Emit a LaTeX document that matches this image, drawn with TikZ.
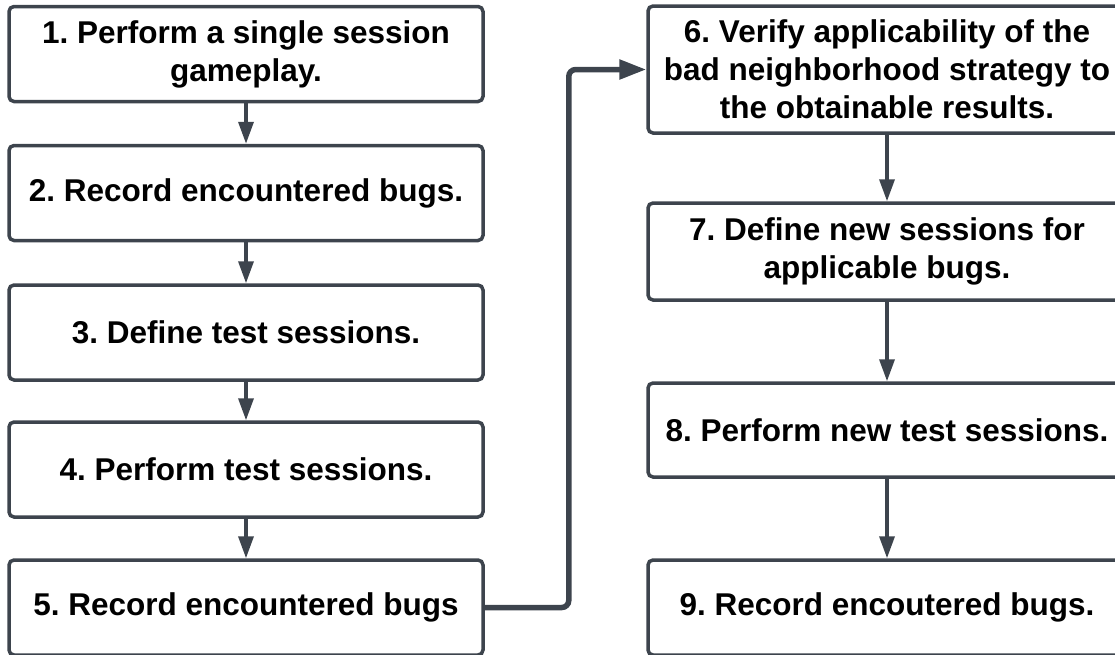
\documentclass[tikz,border=0pt]{standalone}
\usepackage{fontspec}
\setmainfont{Liberation Sans}
\usepackage{tikz}
\usetikzlibrary{arrows.meta}
\definecolor{edgegray}{HTML}{3D444D}
\frenchspacing

\begin{document}
\begin{tikzpicture}[x=1pt, y=-1pt, stepbox/.style={draw=edgegray, rectangle, rounded corners=5pt, line width=3.5pt, minimum width=474pt, minimum height=95pt, align=center, font=\fontsize{31.5}{38}\selectfont\bfseries, fill=white}, n/.style={-{Triangle[length=22pt, width=15pt]}, draw=edgegray, line width=3.5pt}, link/.style={-{Triangle[length=27pt, width=19pt]}, draw=edgegray, line width=5.5pt, rounded corners=7pt}]
            \useasboundingbox (0,0) rectangle (1115,654);
            \clip (0,0) rectangle (1115,654);
            % nodes
            \node[stepbox] (s1) at (246,54) {1. Perform a single session\\gameplay.};
            \node[stepbox] (s2) at (246,193) {2. Record encountered bugs.};
            \node[stepbox] (s3) at (246,332.5) {3. Define test sessions.};
            \node[stepbox] (s4) at (246,469.5) {4. Perform test sessions.};
            \node[stepbox] (s5) at (246,607.5) {5. Record encountered bugs};
            \node[stepbox, minimum width=478pt, minimum height=127pt] (s6) at (887,69.5) {6. Verify applicability of the\\bad neighborhood strategy to\\the obtainable results.};
            \node[stepbox, minimum width=478pt, minimum height=97pt] (s7) at (887,251.5) {7. Define new sessions for\\applicable bugs.};
            \node[stepbox, minimum width=478pt, minimum height=94pt] (s8) at (887,430) {8. Perform new test sessions.};
            \node[stepbox, minimum width=478pt] (s9) at (887,607.5) {9. Record encoutered bugs.};
            % edges
            \draw [n] (s1) -- (s2);
            \draw [n] (s2) -- (s3);
            \draw [n] (s3) -- (s4);
            \draw [n] (s4) -- (s5);
            \draw [link] (s5.east) -- ++(84,0) |- (s6.west);
            \draw [n] (s6) -- (s7);
            \draw [n] (s7) -- (s8);
            \draw [n] (s8) -- (s9);
        \end{tikzpicture}
\end{document}
